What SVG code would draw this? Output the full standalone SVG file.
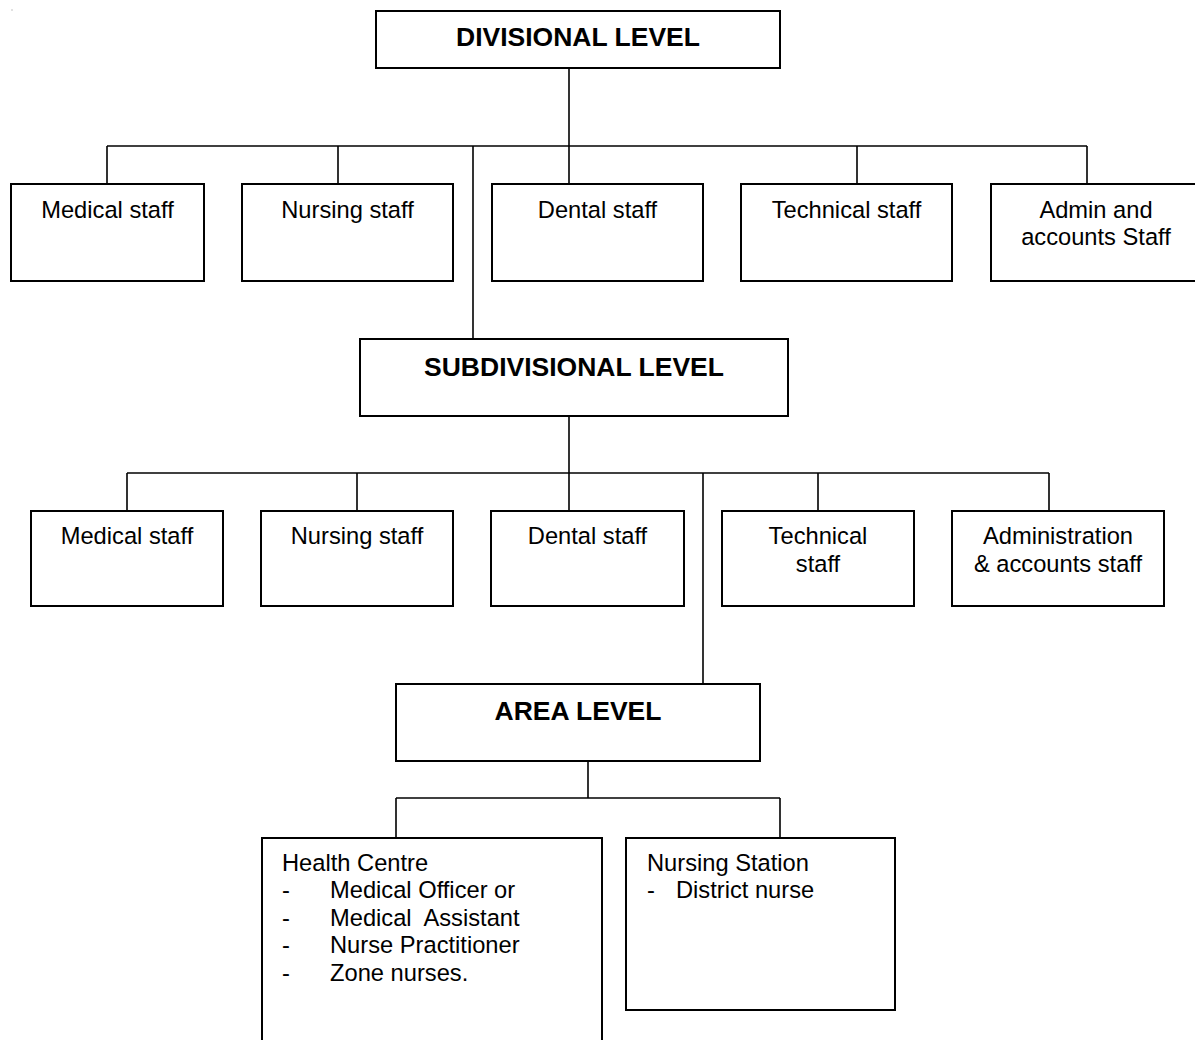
<svg xmlns="http://www.w3.org/2000/svg" width="1195" height="1040" viewBox="0 0 1195 1040">
  <style>
    .box { fill: #ffffff; stroke: #000000; stroke-width: 2; }
    .wire { fill: none; stroke: #000000; stroke-width: 1.6; }
    .head { font-family: "Liberation Sans", Arial, sans-serif; font-weight: bold; font-size: 26.5px; fill: #000000; text-anchor: middle; }
    .lbl { font-family: "Liberation Sans", Arial, sans-serif; font-size: 23.7px; fill: #000000; text-anchor: middle; }
    .list { font-family: "Liberation Sans", Arial, sans-serif; font-size: 23.7px; fill: #000000; white-space: pre; }
  </style>

  <rect width="1195" height="1040" fill="#ffffff"/>
  <!-- stray mark in the top-left corner -->
  <rect x="11.5" y="9.5" width="1" height="1" fill="#888888"/>

  <!-- connectors -->
  <g id="connectors" class="wire">
    <!-- divisional level fan-out -->
    <path d="M569,68 V146"/>
    <path d="M107,146 H1087"/>
    <path d="M107,146 V184 M338,146 V184 M569,146 V184 M857,146 V184 M1087,146 V184"/>
    <path d="M473,146 V339"/>
    <!-- subdivisional level fan-out -->
    <path d="M569,416 V511"/>
    <path d="M127,473 H1049"/>
    <path d="M127,473 V511 M357,473 V511 M818,473 V511 M1049,473 V511"/>
    <path d="M703,473 V684"/>
    <!-- area level fan-out -->
    <path d="M588,761 V798"/>
    <path d="M396,798 H780"/>
    <path d="M396,798 V838 M780,798 V838"/>
  </g>

  <!-- divisional level -->
  <g id="divisional">
    <rect class="box" x="376" y="11" width="404" height="57"/>
    <text class="head" x="578" y="46">DIVISIONAL LEVEL</text>
  </g>
  <g id="div-medical">
    <rect class="box" x="11" y="184" width="193" height="97"/>
    <text class="lbl" x="107.5" y="218">Medical staff</text>
  </g>
  <g id="div-nursing">
    <rect class="box" x="242" y="184" width="211" height="97"/>
    <text class="lbl" x="347.5" y="218">Nursing staff</text>
  </g>
  <g id="div-dental">
    <rect class="box" x="492" y="184" width="211" height="97"/>
    <text class="lbl" x="597.5" y="218">Dental staff</text>
  </g>
  <g id="div-technical">
    <rect class="box" x="741" y="184" width="211" height="97"/>
    <text class="lbl" x="846.5" y="218">Technical staff</text>
  </g>
  <g id="div-admin">
    <rect class="box" x="991" y="184" width="210" height="97"/>
    <text class="lbl" x="1096" y="218">Admin and</text>
    <text class="lbl" x="1096" y="245">accounts Staff</text>
  </g>

  <!-- subdivisional level -->
  <g id="subdivisional">
    <rect class="box" x="360" y="339" width="428" height="77"/>
    <text class="head" x="574" y="376">SUBDIVISIONAL LEVEL</text>
  </g>
  <g id="sub-medical">
    <rect class="box" x="31" y="511" width="192" height="95"/>
    <text class="lbl" x="127" y="544">Medical staff</text>
  </g>
  <g id="sub-nursing">
    <rect class="box" x="261" y="511" width="192" height="95"/>
    <text class="lbl" x="357" y="544">Nursing staff</text>
  </g>
  <g id="sub-dental">
    <rect class="box" x="491" y="511" width="193" height="95"/>
    <text class="lbl" x="587.5" y="544">Dental staff</text>
  </g>
  <g id="sub-technical">
    <rect class="box" x="722" y="511" width="192" height="95"/>
    <text class="lbl" x="818" y="544">Technical</text>
    <text class="lbl" x="818" y="572">staff</text>
  </g>
  <g id="sub-admin">
    <rect class="box" x="952" y="511" width="212" height="95"/>
    <text class="lbl" x="1058" y="544">Administration</text>
    <text class="lbl" x="1058" y="572">&amp; accounts staff</text>
  </g>

  <!-- area level -->
  <g id="area">
    <rect class="box" x="396" y="684" width="364" height="77"/>
    <text class="head" x="578" y="720">AREA LEVEL</text>
  </g>
  <g id="health-centre">
    <rect class="box" x="262" y="838" width="340" height="210"/>
    <text class="list" x="282" y="871">Health Centre</text>
    <text class="list" x="282" y="898">-</text>
    <text class="list" x="330" y="898">Medical Officer or</text>
    <text class="list" x="282" y="926">-</text>
    <text class="list" x="330" y="926" xml:space="preserve">Medical  Assistant</text>
    <text class="list" x="282" y="953">-</text>
    <text class="list" x="330" y="953">Nurse Practitioner</text>
    <text class="list" x="282" y="981">-</text>
    <text class="list" x="330" y="981">Zone nurses.</text>
  </g>
  <g id="nursing-station">
    <rect class="box" x="626" y="838" width="269" height="172"/>
    <text class="list" x="647" y="871">Nursing Station</text>
    <text class="list" x="647" y="898">-</text>
    <text class="list" x="676" y="898">District nurse</text>
  </g>
</svg>
